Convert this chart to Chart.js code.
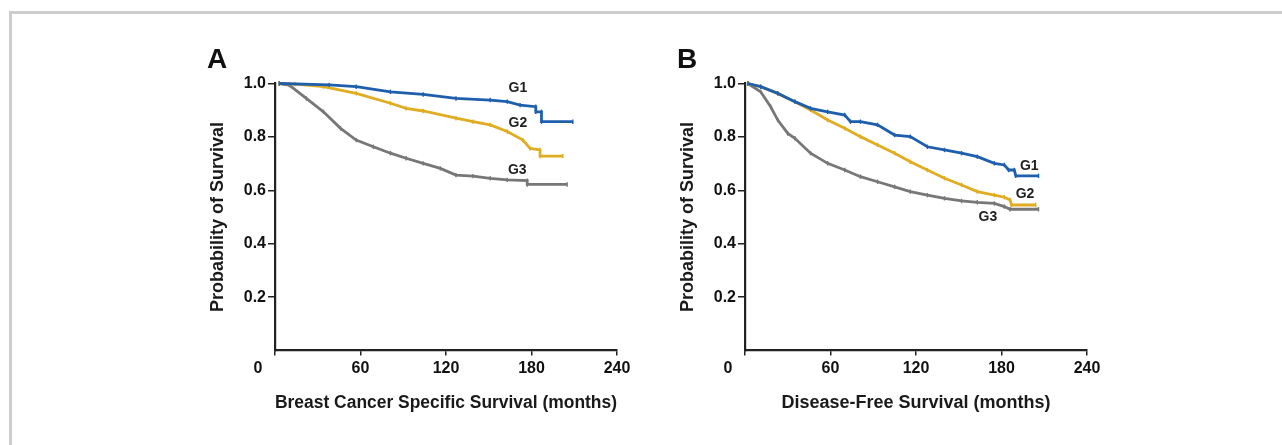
<!DOCTYPE html>
<html>
<head>
<meta charset="utf-8">
<script src="https://cdn.jsdelivr.net/npm/chart.js@4/dist/chart.umd.min.js"></script>
<style>
  html, body { margin: 0; padding: 0; background: #fff; }
  body { width: 1282px; height: 445px; position: relative; overflow: hidden; }
  #frame { position: absolute; left: 9px; top: 11px; right: 0; bottom: 0;
           border-top: 3px solid #cdcdcd; border-left: 3px solid #cdcdcd; }
  .wrap { position: absolute; top: 40px; width: 500px; height: 385px; }
  #wa { left: 150px; }
  #wb { left: 620px; }
</style>
</head>
<body>
<div id="frame"></div>
<div class="wrap" id="wa"><canvas id="ca" width="500" height="385"></canvas></div>
<div class="wrap" id="wb"><canvas id="cb" width="500" height="385"></canvas></div>
<script>
// ---- data (months, survival probability) ----
const seriesNames = ["G1", "G2", "G3"];
const xTicks = [0, 60, 120, 180, 240];
const yTicks = [0.2, 0.4, 0.6, 0.8, 1.0];

// Panel A: Breast Cancer Specific Survival
const aG1Time = [3, 38, 57, 81, 104, 127, 151, 163, 172, 183, 183, 187, 187, 209];
const aG1Surv = [1.0, 0.995, 0.988, 0.969, 0.959, 0.944, 0.938, 0.932, 0.919, 0.913, 0.894, 0.894, 0.857, 0.857];
const aG2Time = [3, 14, 34, 57, 81, 92, 104, 127, 139, 151, 163, 174, 179, 186, 186, 202];
const aG2Surv = [1.0, 0.998, 0.988, 0.963, 0.926, 0.907, 0.897, 0.870, 0.857, 0.845, 0.820, 0.788, 0.757, 0.751, 0.728, 0.728];
const aG3Time = [3, 10, 22, 34, 46, 57, 69, 81, 92, 104, 116, 127, 139, 151, 163, 177, 177, 205];
const aG3Surv = [1.0, 0.994, 0.944, 0.894, 0.832, 0.788, 0.763, 0.739, 0.720, 0.701, 0.682, 0.657, 0.653, 0.645, 0.639, 0.636, 0.622, 0.622];

// Panel B: Disease-Free Survival
const bG1Time = [2, 11, 23, 35, 46, 58, 70, 74, 81, 93, 105, 116, 128, 140, 152, 163, 175, 182, 185, 189, 190, 206];
const bG1Surv = [1.0, 0.988, 0.963, 0.932, 0.907, 0.894, 0.882, 0.857, 0.857, 0.845, 0.807, 0.801, 0.763, 0.751, 0.739, 0.726, 0.701, 0.695, 0.676, 0.676, 0.654, 0.654];
const bG2Time = [2, 11, 23, 35, 46, 58, 70, 81, 93, 105, 116, 128, 140, 152, 163, 175, 182, 186, 187, 204];
const bG2Surv = [1.0, 0.988, 0.963, 0.932, 0.901, 0.863, 0.832, 0.801, 0.770, 0.739, 0.707, 0.676, 0.645, 0.620, 0.595, 0.582, 0.574, 0.564, 0.545, 0.545];
const bG3Time = [2, 11, 18, 23, 30, 35, 46, 58, 70, 81, 93, 105, 116, 128, 140, 152, 163, 175, 182, 186, 206];
const bG3Surv = [1.0, 0.969, 0.913, 0.863, 0.813, 0.795, 0.739, 0.701, 0.676, 0.651, 0.632, 0.613, 0.595, 0.582, 0.570, 0.560, 0.555, 0.551, 0.539, 0.529, 0.529];

// curve label anchors (data coordinates)
const aLabelTime = [170.5, 170.5, 170];
const aLabelSurv = [0.983, 0.852, 0.676];
const bLabelTime = [199.5, 196.5, 170.5];
const bLabelSurv = [0.691, 0.586, 0.500];

// ---- styles ----
const colors = ["#1e5fad", "#e0ad22", "#777777"];
const tickFont = { family: "'Liberation Sans', Arial, sans-serif", size: 16, weight: "bold" };
const titleFont = { family: "'Liberation Sans Narrow', 'Liberation Sans', Arial, sans-serif", size: 18, weight: "bold" };

function pts(t, s) { return t.map((v, i) => ({ x: v, y: s[i] })); }

function makeChart(id, letter, xTitle, times, survs, lTimes, lSurvs) {
  const datasets = seriesNames.map((n, i) => ({
    label: n,
    data: pts(times[i], survs[i]),
    borderColor: colors[i],
    backgroundColor: colors[i],
    borderWidth: 2.8,
    pointStyle: 'line',
    rotation: 90,
    pointRadius: 2.2,
    pointBorderWidth: 1.4,
    pointBorderColor: colors[i],
    tension: 0,
    fill: false,
    clip: false
  }));

  const textPlugin = {
    id: 'txt' + id,
    afterDraw(chart) {
      const ctx = chart.ctx, ca = chart.chartArea;
      const xs = chart.scales.x, ys = chart.scales.y;
      ctx.save();
      ctx.fillStyle = '#111';
      ctx.textAlign = 'center';
      ctx.textBaseline = 'middle';
      ctx.font = "bold 28px 'Liberation Sans', Arial, sans-serif";
      ctx.fillText(letter, ca.left - 58, ca.top - 23);
      ctx.font = "bold 16px 'Liberation Sans', Arial, sans-serif";
      ctx.fillText('0', ca.left - 17, ca.bottom + 18);
      ctx.font = "bold 14px 'Liberation Sans', Arial, sans-serif";
      ctx.fillStyle = '#222';
      seriesNames.forEach((n, i) => {
        ctx.fillText(n, xs.getPixelForValue(lTimes[i]), ys.getPixelForValue(lSurvs[i]));
      });
      ctx.restore();
    }
  };

  return new Chart(document.getElementById(id), {
    type: 'line',
    data: { datasets },
    options: {
      responsive: false,
      animation: false,
      events: [],
      layout: { padding: { left: 0, top: 43.5, right: 33, bottom: 0 } },
      plugins: { legend: { display: false }, tooltip: { enabled: false } },
      scales: {
        x: {
          type: 'linear', min: 0, max: 240,
          afterBuildTicks: s => { s.ticks = xTicks.map(v => ({ value: v })); },
          afterFit: s => { s.height = 74.5; },
          ticks: { callback: v => (v === 0 ? '' : String(v)), font: tickFont, color: '#111', padding: 3, maxRotation: 0 },
          grid: { display: true, drawOnChartArea: false, drawTicks: true, tickLength: 5, color: '#222', lineWidth: 1.5 },
          border: { display: true, color: '#222', width: 2.2 },
          title: { display: true, text: xTitle, font: titleFont, color: '#1a1a1a', padding: { top: 0, bottom: 11 } }
        },
        y: {
          type: 'linear', min: 0, max: 1,
          afterBuildTicks: s => { s.ticks = yTicks.map(v => ({ value: v })); },
          afterFit: s => { s.width = 125; },
          ticks: { callback: v => v.toFixed(1), font: tickFont, color: '#111', padding: 2 },
          grid: { display: true, drawOnChartArea: false, drawTicks: true, tickLength: 7, color: '#222', lineWidth: 1.5 },
          border: { display: true, color: '#222', width: 2.2 },
          title: { display: true, text: 'Probability of Survival', font: titleFont, color: '#1a1a1a', padding: { top: 57, bottom: 0 } }
        }
      }
    },
    plugins: [textPlugin]
  });
}

makeChart('ca', 'A', 'Breast Cancer Specific Survival (months)',
  [aG1Time, aG2Time, aG3Time], [aG1Surv, aG2Surv, aG3Surv], aLabelTime, aLabelSurv);
makeChart('cb', 'B', 'Disease-Free Survival (months)',
  [bG1Time, bG2Time, bG3Time], [bG1Surv, bG2Surv, bG3Surv], bLabelTime, bLabelSurv);
</script>
</body>
</html>
